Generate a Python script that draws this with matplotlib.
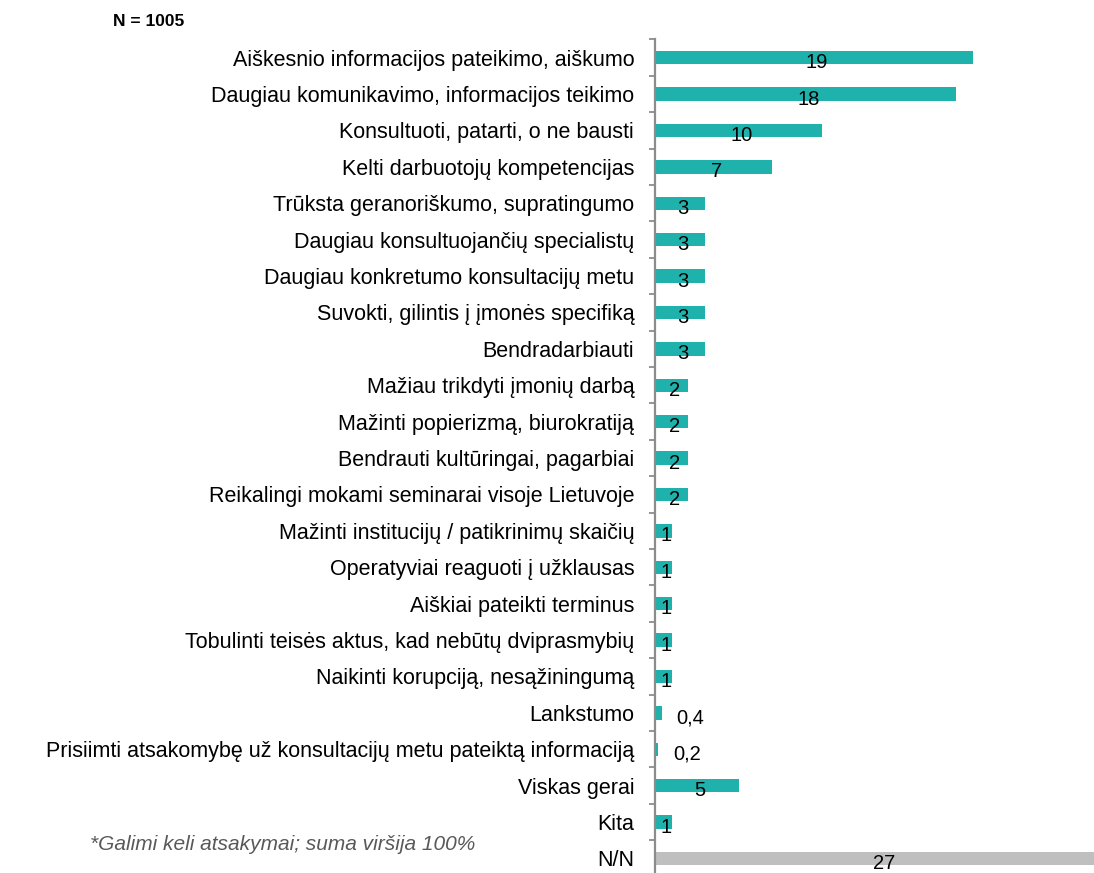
import matplotlib
matplotlib.use("Agg")
import matplotlib.pyplot as plt
from matplotlib.ticker import FixedLocator

plt.rcParams['font.family'] = ['Liberation Sans', 'DejaVu Sans']

categories = [
    "Aiškesnio informacijos pateikimo, aiškumo",
    "Daugiau komunikavimo, informacijos teikimo",
    "Konsultuoti, patarti, o ne bausti",
    "Kelti darbuotojų kompetencijas",
    "Trūksta geranoriškumo, supratingumo",
    "Daugiau konsultuojančių specialistų",
    "Daugiau konkretumo konsultacijų metu",
    "Suvokti, gilintis į įmonės specifiką",
    "Bendradarbiauti",
    "Mažiau trikdyti įmonių darbą",
    "Mažinti popierizmą, biurokratiją",
    "Bendrauti kultūringai, pagarbiai",
    "Reikalingi mokami seminarai visoje Lietuvoje",
    "Mažinti institucijų / patikrinimų skaičių",
    "Operatyviai reaguoti į užklausas",
    "Aiškiai pateikti terminus",
    "Tobulinti teisės aktus, kad nebūtų dviprasmybių",
    "Naikinti korupciją, nesąžiningumą",
    "Lankstumo",
    "Prisiimti atsakomybę už konsultacijų metu pateiktą informaciją",
    "Viskas gerai",
    "Kita",
    "N/N",
]
values = [19, 18, 10, 7, 3, 3, 3, 3, 3, 2, 2, 2, 2, 1, 1, 1, 1, 1, 0.4, 0.2, 5, 1, 27]
gray_categories = ["N/N"]

TEAL = "#1FB1AC"
GRAY = "#BFBFBF"

W, H = 1094, 873
fig = plt.figure(figsize=(W / 100, H / 100), dpi=100)
ax_left = 655 / W
ax_top = 39.5 / H
ax_bottom = 876.7 / H
ax = fig.add_axes([ax_left, 1 - ax_bottom, 1 - ax_left, ax_bottom - ax_top])

n = len(categories)
ypos = list(range(n))
colors = [GRAY if c in gray_categories else TEAL for c in categories]
ax.barh(ypos, values, height=0.37, color=colors, zorder=2)

ax.set_ylim(n - 0.5, -0.5)
ax.set_xlim(0, (W - 655) / 16.72)

def fmt(v):
    return str(int(v)) if float(v).is_integer() else str(v).replace('.', ',')

for y, v in zip(ypos, values):
    if v < 1:
        ax.annotate(fmt(v), (v, y), xytext=(15, -5), textcoords='offset pixels',
                    ha='left', va='center', fontsize=14.5, color='black')
    else:
        ax.annotate(fmt(v), (v / 2, y), xytext=(3, -5), textcoords='offset pixels',
                    ha='center', va='center', fontsize=14.5, color='black')

for s in ['top', 'right', 'bottom']:
    ax.spines[s].set_visible(False)
ax.spines['left'].set_color('#8C8C8C')
ax.spines['left'].set_linewidth(1.6)
ax.xaxis.set_visible(False)

ax.set_yticks(ypos)
ax.set_yticklabels(categories, fontsize=15.5)
ax.yaxis.set_minor_locator(FixedLocator([i - 0.5 for i in range(n + 1)]))
ax.tick_params(axis='y', which='major', length=0, pad=15)
ax.tick_params(axis='y', which='minor', length=4.5, width=1.3, color='#8C8C8C', direction='out')

fig.text(113 / W, 1 - 22 / H, "N = 1005", fontsize=12.5, fontweight='bold', ha='left', va='center')
fig.text(90 / W, 1 - 845 / H, "*Galimi keli atsakymai; suma viršija 100%", fontsize=15,
         style='italic', color='#595959', ha='left', va='center')

fig.savefig("out.png", dpi=100)
